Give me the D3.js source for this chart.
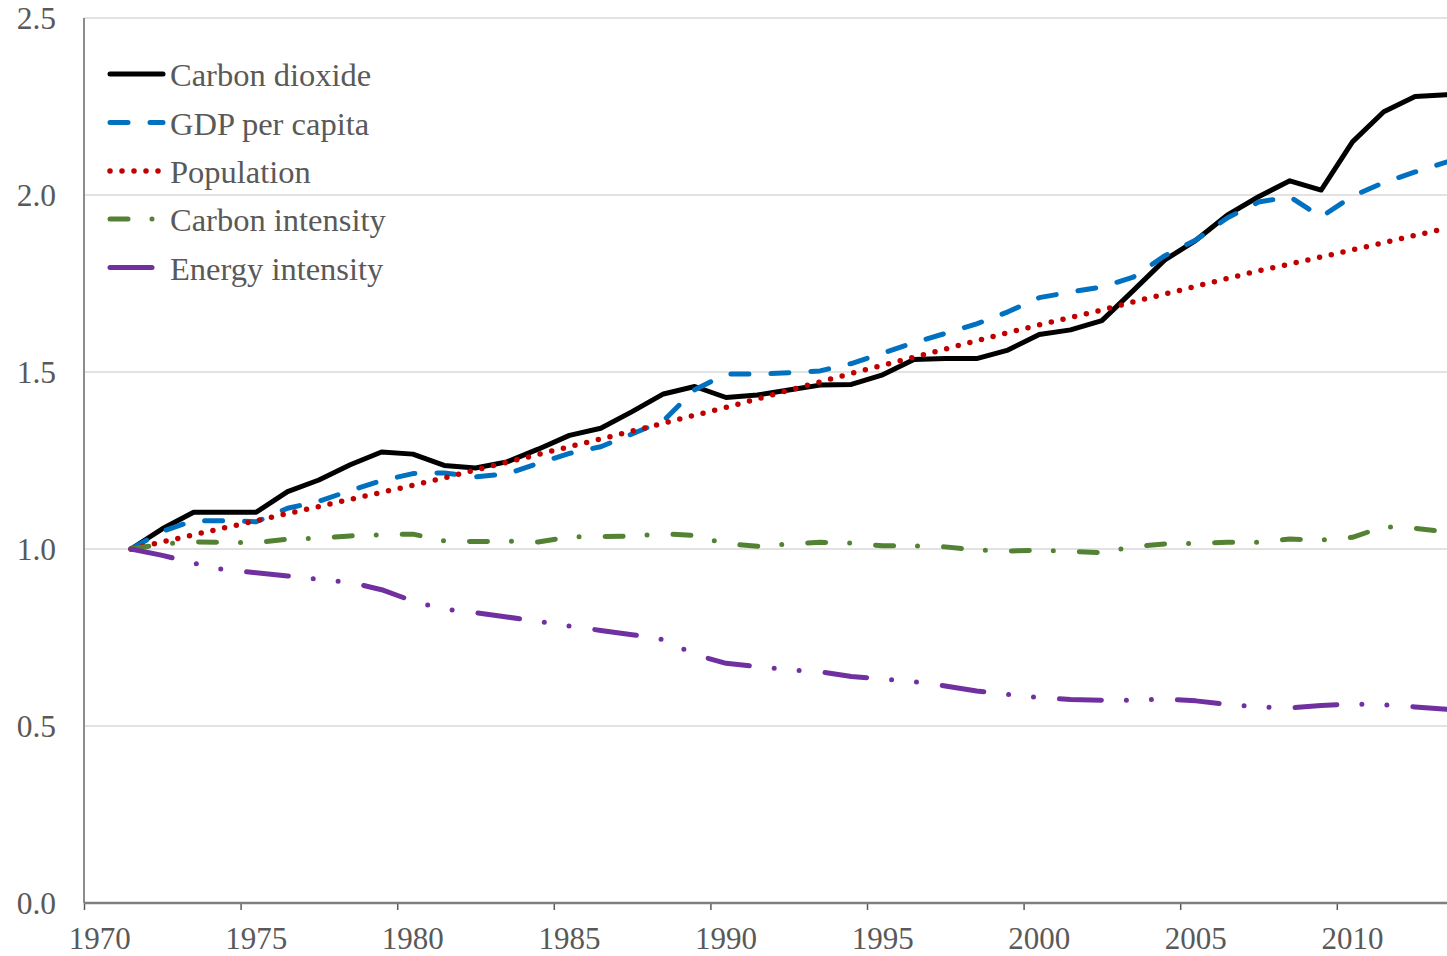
<!DOCTYPE html>
<html>
<head>
<meta charset="utf-8">
<script src="https://cdn.jsdelivr.net/npm/d3@7"></script>
<style>
  html, body { margin: 0; padding: 0; background: #ffffff; overflow: hidden; }
  svg { display: block; }
  text { font-family: "Liberation Serif", "Times New Roman", serif; fill: #595959; }
</style>
</head>
<body>
<svg id="chart" width="1447" height="956"></svg>
<script>
const years = d3.range(1971, 2014);

const carbonDioxide = [1.000,1.057,1.104,1.104,1.104,1.162,1.195,1.238,1.274,1.268,
  1.236,1.229,1.246,1.282,1.321,1.341,1.388,1.438,1.459,1.428,
  1.435,1.449,1.463,1.465,1.492,1.535,1.538,1.538,1.562,1.606,
  1.619,1.645,1.730,1.816,1.872,1.943,1.995,2.040,2.014,2.150,
  2.235,2.278,2.283];

const gdpPerCapita = [1.000,1.050,1.080,1.080,1.077,1.115,1.135,1.165,1.193,1.213,
  1.215,1.204,1.212,1.242,1.270,1.289,1.325,1.362,1.450,1.494,
  1.494,1.498,1.503,1.524,1.553,1.583,1.609,1.636,1.670,1.710,
  1.726,1.740,1.768,1.828,1.873,1.935,1.980,1.995,1.938,1.997,
  2.035,2.065,2.093];

const population = [1.000,1.020,1.040,1.060,1.080,1.100,1.120,1.140,1.160,1.180,
  1.201,1.223,1.245,1.267,1.289,1.311,1.333,1.355,1.378,1.400,
  1.424,1.448,1.472,1.496,1.519,1.542,1.565,1.588,1.611,1.633,
  1.654,1.675,1.698,1.720,1.742,1.764,1.786,1.805,1.825,1.845,
  1.865,1.886,1.906];

const carbonIntensity = [1.000,1.014,1.020,1.019,1.018,1.028,1.031,1.037,1.040,1.042,
  1.023,1.021,1.022,1.020,1.034,1.035,1.036,1.043,1.038,1.015,
  1.008,1.014,1.019,1.017,1.009,1.009,1.006,0.997,0.994,0.997,
  0.993,0.990,1.007,1.014,1.016,1.019,1.019,1.028,1.025,1.033,
  1.063,1.058,1.049];

const energyIntensity = [1.000,0.982,0.960,0.941,0.933,0.924,0.914,0.906,0.885,0.853,
  0.830,0.820,0.808,0.796,0.782,0.770,0.758,0.744,0.702,0.677,
  0.668,0.659,0.653,0.640,0.633,0.625,0.613,0.599,0.589,0.580,
  0.575,0.573,0.573,0.576,0.571,0.561,0.554,0.551,0.558,0.562,
  0.560,0.554,0.547];

const seriesNames = ["Carbon dioxide","GDP per capita","Population","Carbon intensity","Energy intensity"];
const yTicks = [0.0, 0.5, 1.0, 1.5, 2.0, 2.5];
const xTickYears = [1970, 1975, 1980, 1985, 1990, 1995, 2000, 2005, 2010];

const series = [
  {name: seriesNames[0], values: carbonDioxide, color: "#000000", dash: null, width: 5},
  {name: seriesNames[1], values: gdpPerCapita, color: "#0070C0", dash: "18,22", width: 5},
  {name: seriesNames[2], values: population, color: "#C00000", dash: "0,12", width: 5.5},
  {name: seriesNames[3], values: carbonIntensity, color: "#548235", dash: "18,24,0,26", width: 5},
  {name: seriesNames[4], values: energyIntensity, color: "#7030A0", dash: "42,25,0,25,0,26", width: 5}
];

const svg = d3.select("#chart");
const W = 1447, H = 956;

const x = d3.scaleLinear().domain([1970, 2014]).range([84, 84 + 44 * 31.32]);
const y = d3.scaleLinear().domain([0, 2.5]).range([903, 18]);

// gridlines
svg.append("g")
  .selectAll("line")
  .data(yTicks.filter(d => d > 0))
  .join("line")
  .attr("x1", x(1970)).attr("x2", W)
  .attr("y1", d => y(d)).attr("y2", d => y(d))
  .attr("stroke", "#D9D9D9").attr("stroke-width", 1.5);

// y axis line
svg.append("line")
  .attr("x1", x(1970)).attr("x2", x(1970))
  .attr("y1", y(2.5)).attr("y2", y(0))
  .attr("stroke", "#8C8C8C").attr("stroke-width", 2);

// y tick labels
svg.append("g")
  .selectAll("text")
  .data(yTicks)
  .join("text")
  .attr("x", 56)
  .attr("y", d => y(d) + 11)
  .attr("text-anchor", "end")
  .attr("font-size", 31.5)
  .text(d => d3.format(".1f")(d));

// x axis
const xAxis = d3.axisBottom(x)
  .tickValues(xTickYears)
  .tickSize(7)
  .tickFormat("");
const gx = svg.append("g").attr("transform", `translate(0,${y(0)})`).call(xAxis);
gx.select(".domain").remove();
gx.selectAll(".tick line").attr("stroke", "#595959").attr("stroke-width", 1.5);
svg.append("line")
  .attr("x1", x(1970)).attr("x2", W)
  .attr("y1", y(0)).attr("y2", y(0))
  .attr("stroke", "#7F7F7F").attr("stroke-width", 2.5);

// x tick labels centred in their category
svg.append("g")
  .selectAll("text")
  .data(xTickYears)
  .join("text")
  .attr("x", d => x(d + 0.5))
  .attr("y", 949)
  .attr("text-anchor", "middle")
  .attr("font-size", 31)
  .text(d => d);

// lines
const line = d3.line()
  .x((d, i) => x(years[i] + 0.5))
  .y(d => y(d));

const lg = svg.append("g");
series.forEach(s => {
  lg.append("path")
    .datum(s.values)
    .attr("d", line)
    .attr("fill", "none")
    .attr("stroke", s.color)
    .attr("stroke-width", s.width)
    .attr("stroke-linecap", "round")
    .attr("stroke-linejoin", "round")
    .attr("stroke-dasharray", s.dash);
});

// legend
const rowY = [74, 122.5, 171, 219, 267.5];
const leg = svg.append("g");
series.forEach((s, i) => {
  leg.append("line")
    .attr("x1", 110).attr("x2", 163)
    .attr("y1", rowY[i]).attr("y2", rowY[i])
    .attr("stroke", s.color)
    .attr("stroke-width", s.width)
    .attr("stroke-linecap", "round")
    .attr("stroke-dasharray", s.dash);
  leg.append("text")
    .attr("x", 170)
    .attr("y", rowY[i] + 12)
    .attr("font-size", 32.5)
    .text(s.name);
});
</script>
</body>
</html>
